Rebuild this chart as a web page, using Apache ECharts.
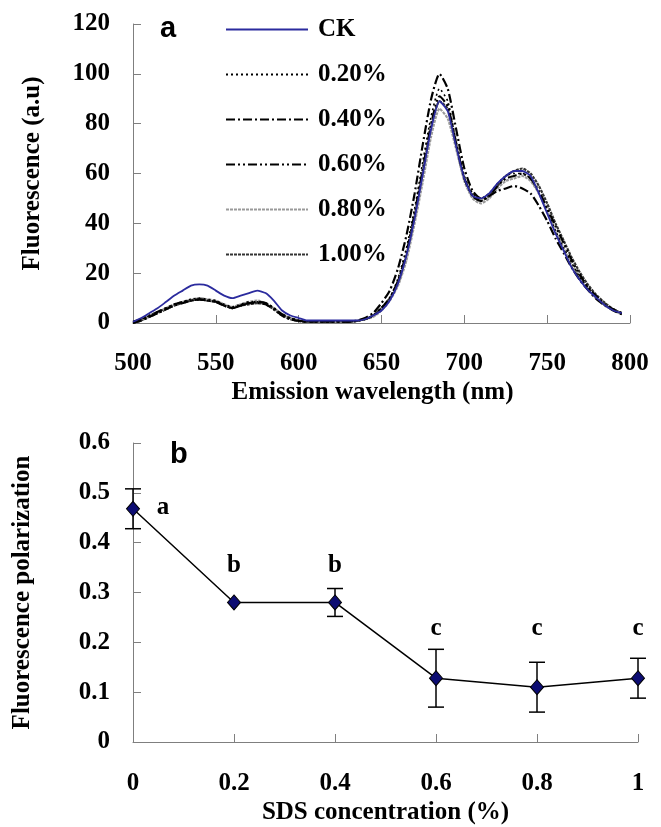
<!DOCTYPE html>
<html>
<head>
<meta charset="utf-8">
<script src="https://cdn.jsdelivr.net/npm/echarts@6/dist/echarts.min.js"></script>
<style>
  html, body { margin: 0; padding: 0; background: #ffffff; }
  #main { width: 661px; height: 827px; }
</style>
</head>
<body>
<div id="main"></div>
<script>
// panel a: emission spectra (every 5 nm)
var wavelength = [500,505,510,515,520,525,530,535,540,545,550,555,560,565,570,575,580,585,590,595,
  600,605,610,615,620,625,630,635,640,645,650,655,660,665,670,675,680,685,690,695,
  700,705,710,715,720,725,730,735,740,745,750,755,760,765,770,775,780,785,790,795];

var ck   = [0.5,2,4,6,8.5,11,13,15,15.5,15,13,11,10,11,12,13,12,9,5,3,
  2,1,1,1,1,1,1,1,1.5,3,5,9,16,27,42,60,78,89,85,71,
  58,51,50,52,56,59,61,61,59,52,44,36,29,22,17,13,10,7,5,4];
var p020 = [0.5,1.5,3,4.5,6,7.5,8.5,9.5,10,9.5,9,7.5,6.5,7.5,8.5,8.5,8,6,3.5,2,
  1,0.5,0.5,0.5,0.5,0.5,0.5,0.8,1.5,3,6,10,18,30,46,65,83,94,89,73,
  59,52,50,52,56,59,60,60,58,52,45,37,30,24,18,14,10,7,5,3.5];
var p040 = [0,1,2.5,4,5.5,7,8,9,9.5,9,8.5,7,6,7,8,8,7.5,5.5,3,1.5,
  0.8,0.5,0.5,0.5,0.5,0.5,0.5,1,2,4,8,13,22,35,52,72,90,100,94,78,
  62,53,50,51,53,54,55,54,52,47,41,34,28,22,17,13,9.5,7,5,3.5];
var p060 = [0.5,1.5,3,4.5,6,7.5,8.5,9,9.5,9,8.5,7,6,7,8,8.5,8,6,3.5,2,
  1,0.5,0.5,0.5,0.5,0.5,0.5,0.8,1.5,3,6,10,17,28,44,62,80,91,87,72,
  58,51,49,51,55,58,59,60,58,53,46,39,32,25,19,14,10.5,7.5,5.5,4];
var p080 = [0.5,1.5,3,4.5,6,7.5,8.5,9.5,10,9.5,9,7.5,6.5,7.5,8.5,9,8,6,3.5,2,
  1,0.5,0.5,0.5,0.5,0.5,0.5,0.8,1.5,2.5,5,9,15,25,40,57,75,86,82,70,
  57,50,48,50,54,57,58,59,57,52,45,37,30,23,18,13,9.5,7,5,3.5];
var p100 = [0,1,2.5,4,5.5,7,8,9,9.5,9,8.5,7,6,7,7.5,8,7.5,5.5,3,1.5,
  0.8,0.5,0.5,0.5,0.5,0.5,0.5,0.8,1.5,3,6,10,16,27,43,61,79,89,86,72,
  58,51,49,51,55,59,61,62,60,55,48,40,33,26,20,15,11,8,5.5,4];

var seriesNames = ['CK', '0.20%', '0.40%', '0.60%', '0.80%', '1.00%'];

// panel b: polarization vs SDS
var sdsConc = [0, 0.2, 0.4, 0.6, 0.8, 1];
var polarization = [0.468, 0.28, 0.28, 0.128, 0.11, 0.128];
var polarizationSd = [0.04, 0, 0.028, 0.058, 0.05, 0.04];
var groupLetters = ['a', 'b', 'b', 'c', 'c', 'c'];
var letterHeight = [0.47, 0.355, 0.355, 0.228, 0.228, 0.228];

var serif = 'Liberation Serif';
var axisGray = '#7f7f7f';

function pairs(xs, ys) {
  return xs.map(function (x, i) { return [x, ys[i]]; });
}

var chart = echarts.init(document.getElementById('main'), null, { renderer: 'canvas' });

var tickLabel = { fontFamily: serif, fontWeight: 'bold', fontSize: 25, color: '#000' };
var nameStyle = { fontFamily: serif, fontWeight: 'bold', fontSize: 25, color: '#000' };

var spectraStyles = [
  { color: '#2b2b9e', width: 1.8, type: 'solid' },
  { color: '#000', width: 1.6, type: [2, 3] },
  { color: '#000', width: 2.2, type: [9, 3, 2, 3] },
  { color: '#000', width: 2.2, type: [9, 3, 2, 3, 2, 3] },
  { color: '#9a9a9a', width: 2.2, type: [3, 1] },
  { color: '#333', width: 2.2, type: [3, 1] }
];
var spectra = [ck, p020, p040, p060, p080, p100];

var series = spectra.map(function (vals, i) {
  return {
    name: seriesNames[i],
    type: 'line',
    xAxisIndex: 0,
    yAxisIndex: 0,
    symbol: 'none',
    smooth: 0.2,
    data: pairs(wavelength, vals),
    lineStyle: spectraStyles[i],
    itemStyle: { color: spectraStyles[i].color },
    z: 10 - i
  };
});

// error bars
series.push({
  type: 'custom',
  xAxisIndex: 1,
  yAxisIndex: 1,
  data: sdsConc.map(function (x, i) { return [x, polarization[i] - polarizationSd[i], polarization[i] + polarizationSd[i]]; }),
  renderItem: function (params, api) {
    var lo = api.coord([api.value(0), api.value(1)]);
    var hi = api.coord([api.value(0), api.value(2)]);
    if (Math.abs(hi[1] - lo[1]) < 1) return null;
    var cap = 8;
    var st = { stroke: '#000', lineWidth: 1.5 };
    return {
      type: 'group',
      children: [
        { type: 'line', shape: { x1: lo[0], y1: lo[1], x2: hi[0], y2: hi[1] }, style: st },
        { type: 'line', shape: { x1: lo[0] - cap, y1: lo[1], x2: lo[0] + cap, y2: lo[1] }, style: st },
        { type: 'line', shape: { x1: hi[0] - cap, y1: hi[1], x2: hi[0] + cap, y2: hi[1] }, style: st }
      ]
    };
  },
  z: 3
});

series.push({
  name: 'polarization',
  type: 'line',
  xAxisIndex: 1,
  yAxisIndex: 1,
  data: pairs(sdsConc, polarization),
  symbol: 'diamond',
  symbolSize: [13, 15],
  lineStyle: { color: '#000', width: 1.5 },
  itemStyle: { color: '#0c0c72', borderColor: '#000', borderWidth: 1 },
  z: 5
});

series.push({
  type: 'scatter',
  xAxisIndex: 1,
  yAxisIndex: 1,
  symbolSize: 0,
  itemStyle: { opacity: 1 },
  data: sdsConc.map(function (x, i) {
    return {
      value: [x, letterHeight[i]],
      label: { offset: i === 0 ? [30, 0] : [0, 0] }
    };
  }),
  label: {
    show: true,
    position: 'inside',
    formatter: function (p) { return groupLetters[p.dataIndex]; },
    fontFamily: serif,
    fontWeight: 'bold',
    fontSize: 25,
    color: '#000',
    opacity: 1
  },
  z: 6
});

var option = {
  backgroundColor: '#ffffff',
  animation: false,
  legend: {
    data: seriesNames,
    orient: 'vertical',
    left: 220,
    top: 12,
    itemWidth: 82,
    itemHeight: 14,
    itemGap: 20,
    itemStyle: { opacity: 0 },
    textStyle: {
      fontFamily: serif, fontWeight: 'bold', fontSize: 25, color: '#000',
      lineHeight: 25, padding: [0, 0, 0, 5]
    }
  },
  graphic: [
    { type: 'text', left: 160, top: 14, style: { text: 'a', font: 'bold 29px "Liberation Sans"', fill: '#000' } },
    { type: 'text', left: 170, top: 440, style: { text: 'b', font: 'bold 29px "Liberation Sans"', fill: '#000' } }
  ],
  grid: [
    { left: 133, right: 31, top: 24, height: 299 },
    { left: 133, right: 23, top: 443, height: 299 }
  ],
  xAxis: [
    {
      type: 'value', gridIndex: 0, min: 500, max: 800, interval: 50,
      name: 'Emission wavelength (nm)', nameLocation: 'middle', nameGap: 57,
      nameTextStyle: Object.assign({ padding: [0, 18, 0, 0] }, nameStyle),
      axisLine: { lineStyle: { color: axisGray } },
      axisTick: { inside: true, length: 8, lineStyle: { color: axisGray } },
      axisLabel: Object.assign({ margin: 28 }, tickLabel),
      splitLine: { show: false }
    },
    {
      type: 'value', gridIndex: 1, min: 0, max: 1, interval: 0.2,
      name: 'SDS concentration (%)', nameLocation: 'middle', nameGap: 58,
      nameTextStyle: nameStyle,
      axisLine: { lineStyle: { color: axisGray } },
      axisTick: { inside: true, length: 8, lineStyle: { color: axisGray } },
      axisLabel: Object.assign({ margin: 29 }, tickLabel),
      splitLine: { show: false }
    }
  ],
  yAxis: [
    {
      type: 'value', gridIndex: 0, min: 0, max: 120, interval: 20,
      name: 'Fluorescence (a.u)', nameLocation: 'middle', nameGap: 88,
      nameTextStyle: nameStyle,
      axisLine: { show: true, lineStyle: { color: axisGray } },
      axisTick: { show: true, inside: true, length: 8, lineStyle: { color: axisGray } },
      axisLabel: Object.assign({ margin: 23 }, tickLabel),
      splitLine: { show: false }
    },
    {
      type: 'value', gridIndex: 1, min: 0, max: 0.6, interval: 0.1,
      name: 'Fluorescence polarization', nameLocation: 'middle', nameGap: 98,
      nameTextStyle: nameStyle,
      axisLine: { show: true, lineStyle: { color: axisGray } },
      axisTick: { show: true, inside: true, length: 8, lineStyle: { color: axisGray } },
      axisLabel: Object.assign({ margin: 23 }, tickLabel),
      splitLine: { show: false }
    }
  ],
  series: series
};

chart.setOption(option);
</script>
</body>
</html>
